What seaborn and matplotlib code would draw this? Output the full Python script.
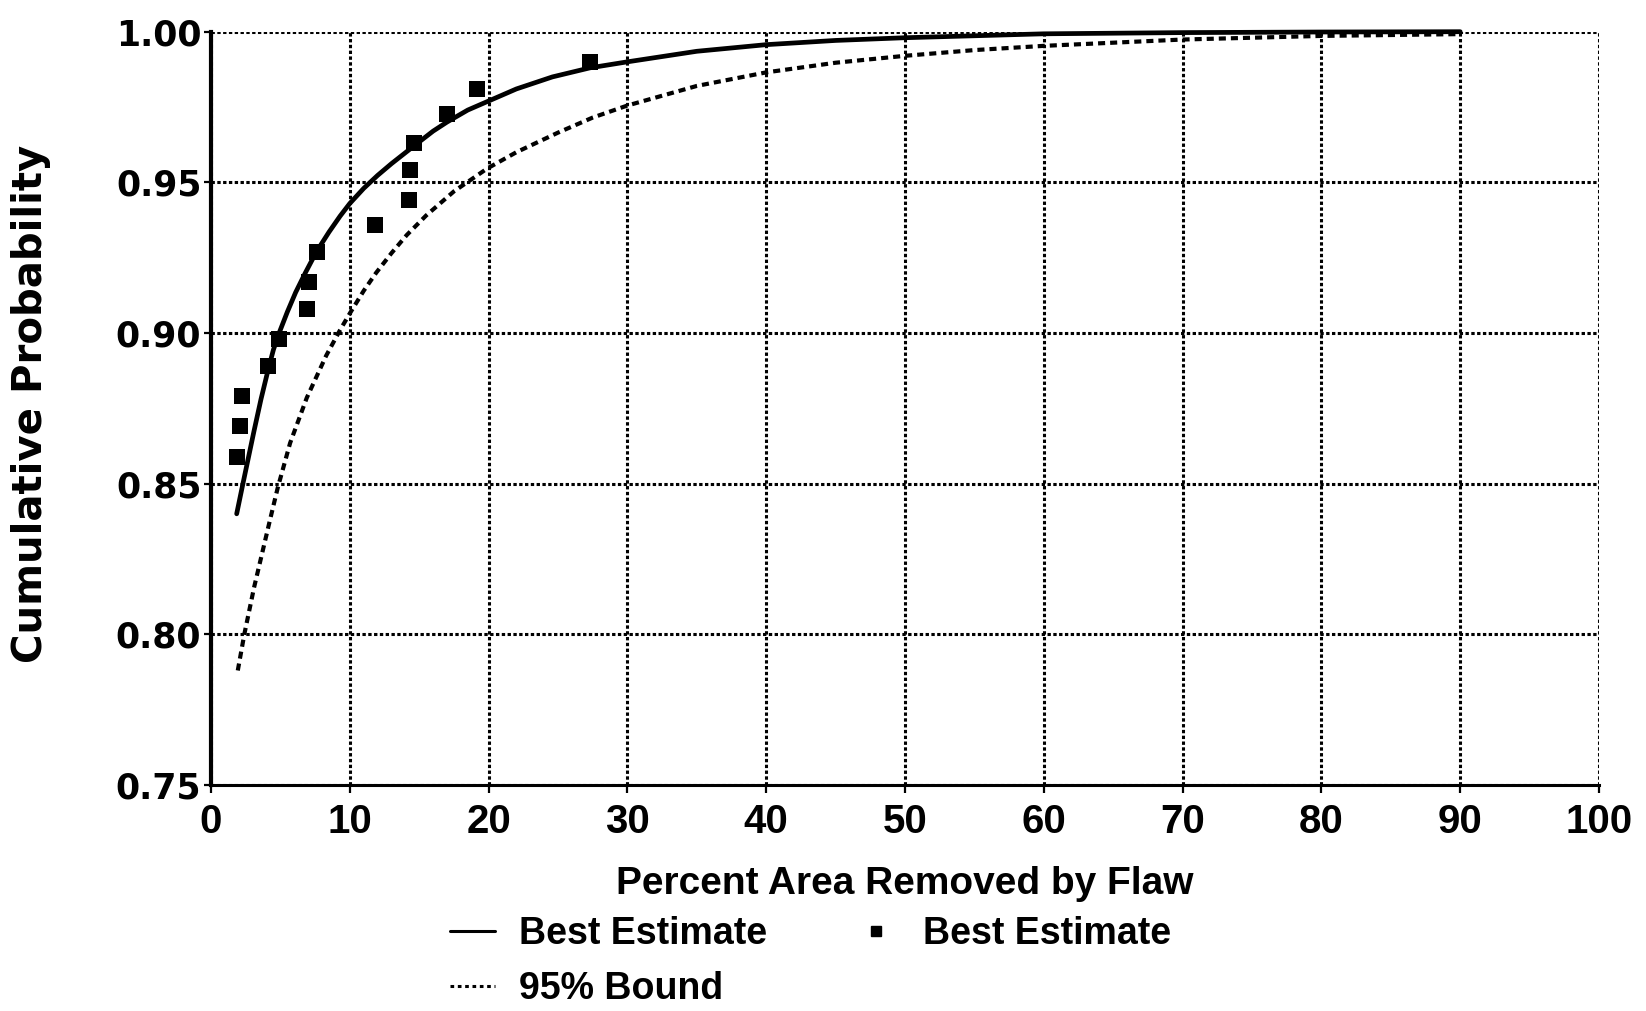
import matplotlib
matplotlib.use("Agg")
import matplotlib.pyplot as plt
from matplotlib.lines import Line2D
import pandas as pd
import seaborn as sns

# Fitted cumulative distribution of flaw size (best estimate)
best_x = [1.85, 2.3, 3.1, 3.6, 4.1, 4.5, 4.95, 5.5, 6.1, 6.8, 7.6, 8.5, 9.3,
          10.0, 11.0, 12.0, 13.0, 14.6, 16.0, 17.0, 18.5, 20.0, 22.0, 24.6,
          27.3, 30.0, 35.0, 40.0, 45.0, 50.0, 60.0, 70.0, 80.0, 90.0]
best_p = [0.840, 0.850, 0.8675, 0.878, 0.8875, 0.8945, 0.9005, 0.907, 0.9135,
          0.920, 0.927, 0.9335, 0.9388, 0.943, 0.948, 0.9523, 0.9562, 0.962,
          0.967, 0.970, 0.974, 0.977, 0.981, 0.985, 0.988, 0.990, 0.9935,
          0.9957, 0.9971, 0.998, 0.9993, 0.9997, 0.9999, 1.000]

# Upper 95% confidence bound of the distribution
bound_x = [1.93, 2.4, 3.1, 4.2, 4.8, 5.7, 6.9, 8.3, 9.3, 10.0, 11.0, 11.9,
           13.0, 14.1, 15.5, 17.5, 19.9, 22.0, 25.0, 27.5, 30.0, 35.0, 40.0,
           45.0, 50.0, 55.0, 60.0, 70.0, 80.0, 90.0]
bound_p = [0.788, 0.800, 0.8155, 0.837, 0.8485, 0.8635, 0.8785, 0.8925,
           0.901, 0.9065, 0.914, 0.920, 0.9265, 0.9325, 0.939, 0.947, 0.9546,
           0.960, 0.9665, 0.9715, 0.9755, 0.982, 0.9865, 0.9897, 0.992,
           0.9939, 0.9953, 0.9974, 0.9986, 0.9992]

# Observed flaws (empirical cumulative probability)
obs_x = [1.88, 2.1, 2.24, 4.1, 4.87, 6.9, 7.05, 7.65, 11.8, 14.3, 14.35, 14.6,
         17.0, 19.2, 27.3]
obs_p = [0.859, 0.869, 0.879, 0.889, 0.898, 0.908, 0.917, 0.927, 0.936, 0.944,
         0.954, 0.963, 0.9726, 0.981, 0.990]

x_ticks = list(range(0, 101, 10))
y_ticks = [0.75, 0.80, 0.85, 0.90, 0.95, 1.00]

x_title = "Percent Area Removed by Flaw"
y_title = "Cumulative Probability"
legend_labels = ["Best Estimate", "95% Bound", "Best Estimate"]

sns.set_style("white")
plt.rcParams["font.family"] = ["Liberation Sans", "DejaVu Sans"]
plt.rcParams.update({"text.color": "black", "axes.labelcolor": "black",
                     "xtick.color": "black", "ytick.color": "black"})

W, H = 1646, 1011
fig = plt.figure(figsize=(W / 100, H / 100), dpi=100)
ax = fig.add_axes([211 / W, 1 - 785 / H, (1599 - 211) / W, (785 - 31.7) / H])

best = pd.DataFrame({"x": best_x, "p": best_p})
bound = pd.DataFrame({"x": bound_x, "p": bound_p})
obs = pd.DataFrame({"x": obs_x, "p": obs_p})

bound_dash = (0, (1.7, 1.2))
sns.lineplot(data=best, x="x", y="p", ax=ax, color="black", lw=3.4,
             sort=False, estimator=None, clip_on=False, zorder=4)
sns.lineplot(data=bound, x="x", y="p", ax=ax, color="black", lw=3.0,
             linestyle=bound_dash, sort=False, estimator=None, clip_on=False,
             zorder=4)
sns.scatterplot(data=obs, x="x", y="p", ax=ax, marker="s", s=130,
                color="black", edgecolor="black", linewidth=0, zorder=5)

ax.set_xlim(0, 100)
ax.set_ylim(0.75, 1.00)
ax.set_xticks(x_ticks)
ax.set_yticks(y_ticks)
ax.set_xticklabels([str(v) for v in x_ticks], fontfamily="Liberation Sans",
                   fontweight="bold", fontsize=29, color="black")
ax.set_yticklabels([f"{v:.2f}" for v in y_ticks], fontfamily="DejaVu Sans",
                   fontweight="bold", fontsize=25, color="black")
ax.tick_params(axis="x", direction="out", length=6, width=1.6, pad=7,
               color="black", bottom=True)
ax.tick_params(axis="y", direction="out", length=5, width=1.6, pad=2,
               color="black", left=True)

ax.grid(True, color="black", lw=2.2, linestyle=(0, (1.1, 0.8)))
ax.set_axisbelow(True)
for side in ("top", "right"):
    ax.spines[side].set_visible(False)
ax.spines["left"].set_linewidth(3.0)
ax.spines["bottom"].set_linewidth(2.2)
for side in ("left", "bottom"):
    ax.spines[side].set_color("black")
    ax.spines[side].set_zorder(6)

ax.set_xlabel("")
ax.set_ylabel("")
fig.text(905 / W, 1 - 884 / H, x_title, ha="center", va="center",
         fontfamily="Liberation Sans", fontweight="bold", fontsize=28,
         color="black")
fig.text(31 / W, 1 - 404 / H, y_title, ha="center", va="center", rotation=90,
         fontfamily="DejaVu Sans", fontweight="bold", fontsize=29,
         color="black")

handles = [
    Line2D([], [], color="black", lw=2.2),
    Line2D([], [], color="black", lw=2.2, linestyle=(0, (1.2, 1.2))),
    Line2D([], [], color="black", lw=0, marker="s", markersize=7),
]
fig.legend(handles, legend_labels, ncol=2, loc="upper left",
           bbox_to_anchor=(450 / W, 1 - 916 / H), frameon=False,
           prop={"family": "Liberation Sans", "weight": "bold", "size": 27},
           handlelength=1.2, handletextpad=0.65, columnspacing=2.3,
           labelspacing=0.5, borderpad=0, borderaxespad=0)

fig.savefig("out.png", dpi=100, facecolor="white")
